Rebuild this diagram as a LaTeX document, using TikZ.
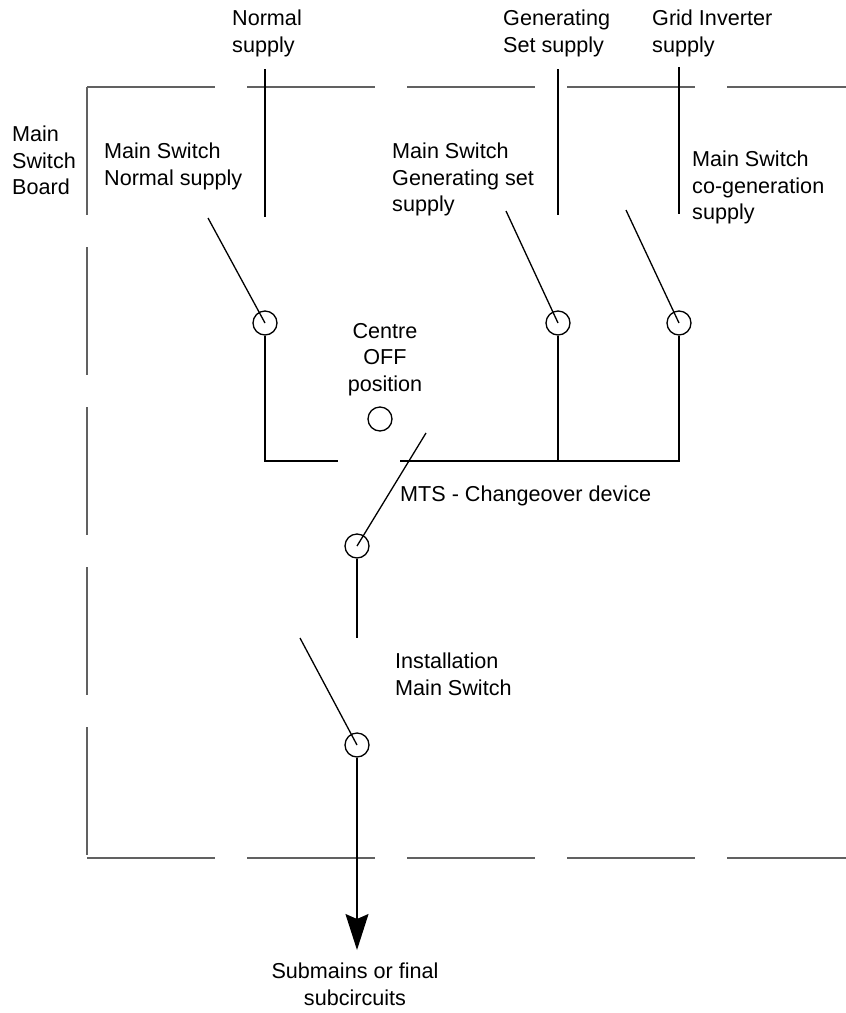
\documentclass[tikz,border=0pt]{standalone}
\usepackage{fontspec}
\setmainfont{Liberation Sans}
\usetikzlibrary{arrows.meta}
\begin{document}
\begin{tikzpicture}[x=1pt,y=-1pt,
  board/.style={draw=black!62, line width=2.4pt, dash pattern=on 128pt off 32pt},
  wire/.style={draw=black, line width=1.3pt},
  contact/.style={circle, draw=black, line width=1.3pt, minimum size=24pt, inner sep=0pt},
  lbl/.style={align=left, anchor=north west, inner sep=0pt, font=\fontsize{21.6}{26.5}\selectfont}]
\useasboundingbox (0,0) rectangle (846,1013);
% board outline
\coordinate (TL) at (87,87);
\coordinate (TR) at (846,87);
\coordinate (BL) at (87,858);
\coordinate (BR) at (846,858);
\draw[board] (TL) -- (TR);
\draw[board] (TL) -- (BL);
\draw[board] (BL) -- (BR);
% supply lines
\coordinate (sN) at (265,69);  \coordinate (sNb) at (265,217);
\coordinate (sG) at (558,69);  \coordinate (sGb) at (558,215);
\coordinate (sI) at (679,67);  \coordinate (sIb) at (679,214);
\draw[wire] (sN) -- (sNb);
\draw[wire] (sG) -- (sGb);
\draw[wire] (sI) -- (sIb);
% contacts
\node[contact] (cN) at (265,323) {};
\node[contact] (cG) at (558,323) {};
\node[contact] (cI) at (679,323) {};
\node[contact] (cOff) at (380,419) {};
\node[contact] (cM) at (357,546) {};
\node[contact] (cS) at (357,745) {};
% blades
\coordinate (bN) at (208,218);
\coordinate (bG) at (506,211);
\coordinate (bI) at (626,210);
\coordinate (bM) at (426,433);
\coordinate (bS) at (300,638);
\draw[wire] (bN) -- (cN.center);
\draw[wire] (bG) -- (cG.center);
\draw[wire] (bI) -- (cI.center);
\draw[wire] (bM) -- (cM.center);
\draw[wire] (bS) -- (cS.center);
% bus
\coordinate (busL) at (338,461);
\coordinate (busR) at (400,461);
\draw[wire] (cN.south) |- (busL);
\draw[wire] (busR) -| (cI.south);
\draw[wire] (cG.south) -- (cG.south |- busR);
% MTS down
\coordinate (mDown) at (357,638);
\draw[wire] (cM.south) -- (mDown);
% output
\coordinate (out) at (357,950);
\draw[wire, -{Stealth[length=36pt,width=23pt,inset=5pt]}] (cS.south) -- (out);
% labels
\node[lbl] (tNs) at (232,10) {Normal\\supply};
\node[lbl] (tGs) at (503,10) {Generating\\Set supply};
\node[lbl] (tIs) at (652,10) {Grid Inverter\\supply};
\node[lbl] (tMSB) at (12,126) {Main\\Switch\\Board};
\node[lbl] (tMN) at (104,143) {Main Switch\\Normal supply};
\node[lbl] (tMG) at (392,143) {Main Switch\\Generating set\\supply};
\node[lbl] (tMC) at (692,151) {Main Switch\\co-generation\\supply};
\node[lbl, align=center, anchor=north] (tOff) at (385,323) {Centre\\OFF\\position};
\node[lbl] (tMTS) at (400,486) {MTS - Changeover device};
\node[lbl] (tIMS) at (395,653) {Installation\\Main Switch};
\node[lbl, align=center, anchor=north] (tSub) at (355,963) {Submains or final\\subcircuits};
\end{tikzpicture}
\end{document}
